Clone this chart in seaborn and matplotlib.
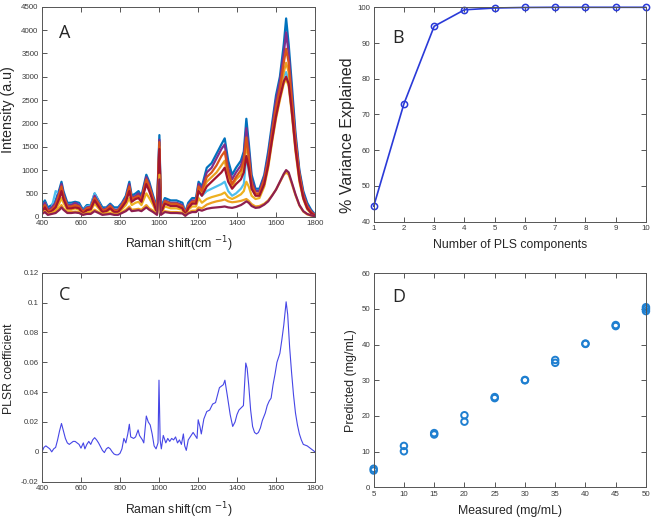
import numpy as np
import pandas as pd
import matplotlib
matplotlib.use("Agg")
import matplotlib.pyplot as plt
import seaborn as sns

# ---------------- Panel A data: Raman spectra ----------------
shift_a = [400, 415, 430, 450, 470, 490, 500, 510, 530, 550, 570, 590, 610, 630, 650,
           670, 690, 710, 730, 750, 770, 790, 810, 830, 848, 860, 880, 895, 910, 935,
           950, 970, 990, 1002, 1010, 1030, 1060, 1090, 1120, 1135, 1150, 1170, 1190, 1203, 1220,
           1245, 1270, 1295, 1320, 1337, 1355, 1375, 1395, 1420, 1435, 1448, 1460, 1475, 1495, 1515,
           1540, 1560, 1580, 1600, 1620, 1640, 1652, 1665, 1680, 1700, 1720, 1740, 1760, 1780, 1800]

spec_blue = [250, 350, 200, 250, 350, 600, 750, 550, 300, 300, 320, 300, 150, 250, 250,
             500, 350, 200, 200, 280, 200, 200, 300, 450, 750, 450, 500, 550, 450, 900,
             750, 450, 200, 1750, 200, 400, 350, 350, 300, 100, 300, 400, 400, 750, 650,
             1050, 1150, 1350, 1550, 1680, 1200, 900, 1050, 1200, 1400, 2100, 1600, 900, 600, 600,
             900, 1400, 2000, 2600, 3000, 3700, 4250, 3700, 2900, 1800, 1000, 550, 300, 150, 50]
spec_cyan = [200, 300, 150, 200, 550, 500, 650, 450, 250, 250, 280, 250, 120, 220, 250,
             500, 320, 150, 180, 250, 150, 150, 280, 380, 600, 380, 420, 450, 380, 700,
             600, 380, 150, 1450, 150, 350, 300, 300, 250, 80, 250, 320, 300, 550, 450,
             550, 600, 650, 700, 750, 550, 450, 500, 600, 700, 1300, 1000, 600, 480, 500,
             800, 1200, 1800, 2300, 2700, 3000, 3100, 2900, 2300, 1500, 850, 400, 200, 100, 30]
spec_yellow = [80, 150, 60, 100, 150, 300, 400, 300, 150, 150, 180, 150, 50, 120, 130,
               280, 180, 80, 100, 150, 80, 80, 160, 250, 400, 250, 300, 320, 250, 500,
               400, 250, 60, 1200, 60, 220, 180, 180, 150, 30, 150, 220, 220, 400, 300,
               380, 420, 450, 480, 520, 420, 380, 420, 480, 550, 750, 650, 450, 380, 400,
               650, 1050, 1600, 2100, 2500, 2850, 2950, 2800, 2250, 1400, 750, 380, 160, 70, 15]
spec_purple = [200, 300, 150, 200, 300, 550, 700, 500, 250, 250, 300, 250, 120, 200, 220,
               450, 300, 150, 180, 250, 150, 150, 280, 400, 700, 400, 450, 500, 400, 850,
               700, 400, 150, 1650, 150, 350, 300, 300, 250, 80, 250, 350, 350, 700, 600,
               950, 1050, 1250, 1450, 1550, 1050, 800, 950, 1100, 1300, 1900, 1450, 800, 550, 550,
               850, 1300, 1900, 2500, 2900, 3500, 3950, 3500, 2700, 1700, 950, 500, 250, 120, 40]
spec_gold = [120, 200, 100, 130, 220, 450, 600, 420, 200, 200, 230, 200, 80, 160, 180,
             380, 250, 110, 140, 210, 120, 110, 230, 350, 600, 350, 400, 420, 350, 750,
             600, 350, 100, 1500, 100, 300, 250, 250, 200, 50, 200, 300, 300, 600, 500,
             750, 850, 950, 1100, 1200, 850, 650, 800, 900, 1100, 1550, 1200, 650, 480, 480,
             750, 1150, 1700, 2250, 2650, 3100, 3300, 3100, 2450, 1550, 850, 420, 200, 90, 20]
spec_red = [150, 250, 120, 150, 250, 500, 650, 450, 220, 220, 250, 220, 100, 180, 200,
            400, 280, 130, 160, 230, 130, 130, 250, 380, 650, 380, 420, 450, 380, 800,
            650, 380, 120, 1600, 120, 330, 280, 280, 220, 60, 230, 320, 330, 650, 550,
            850, 950, 1100, 1300, 1400, 950, 700, 850, 1000, 1200, 1700, 1300, 700, 500, 500,
            800, 1200, 1800, 2350, 2750, 3300, 3600, 3300, 2550, 1600, 900, 450, 220, 100, 30]
spec_darkred = [100, 200, 80, 120, 200, 400, 550, 380, 180, 180, 200, 180, 60, 140, 160,
                350, 220, 100, 120, 180, 100, 100, 200, 320, 550, 320, 380, 400, 320, 700,
                550, 320, 80, 1450, 80, 280, 230, 230, 180, 40, 180, 280, 280, 550, 450,
                650, 750, 850, 950, 1050, 750, 600, 700, 800, 950, 1300, 1050, 600, 450, 450,
                700, 1100, 1650, 2150, 2550, 2900, 3000, 2850, 2300, 1450, 800, 400, 180, 80, 20]
spec_low_orange = [80, 120, 60, 80, 120, 200, 250, 180, 100, 100, 110, 100, 50, 80, 80,
                   150, 100, 60, 70, 80, 60, 60, 100, 150, 220, 150, 160, 170, 150, 250,
                   180, 130, 60, 900, 60, 120, 100, 100, 90, 30, 90, 130, 130, 200, 180,
                   260, 300, 330, 350, 370, 330, 310, 320, 340, 360, 380, 340, 270, 220, 230,
                   280, 350, 460, 580, 740, 900, 950, 900, 720, 460, 240, 110, 50, 25, 10]
spec_low_red = [60, 100, 40, 60, 80, 150, 200, 150, 80, 80, 90, 80, 40, 60, 60,
                120, 80, 40, 50, 60, 40, 40, 80, 120, 180, 120, 130, 140, 120, 200,
                150, 100, 40, 800, 40, 100, 80, 80, 70, 20, 70, 100, 100, 150, 130,
                170, 190, 200, 210, 220, 200, 190, 210, 250, 290, 330, 300, 230, 190, 200,
                260, 330, 450, 580, 750, 920, 1000, 950, 750, 480, 250, 120, 60, 30, 10]

spectra_names = ["blue", "cyan", "yellow", "purple", "gold", "red", "darkred", "low_orange", "low_red"]
spectra_values = [spec_blue, spec_cyan, spec_yellow, spec_purple, spec_gold, spec_red,
                  spec_darkred, spec_low_orange, spec_low_red]
spectra_colors = ["#0072BD", "#4DBEEE", "#EDB120", "#7E2F8E", "#E8A020", "#D95319",
                  "#A2142F", "#EDA020", "#8E1F4F"]

# ---------------- Panel B data ----------------
n_components = [1, 2, 3, 4, 5, 6, 7, 8, 9, 10]
variance_explained = [44.3, 73.0, 94.7, 99.3, 99.8, 99.95, 100.0, 100.0, 100.0, 100.0]

# ---------------- Panel C data: PLSR coefficients ----------------
shift_c = [400, 410, 420, 430, 440, 450, 460, 470, 480, 490, 500, 510, 520, 530, 540, 550, 560, 570,
           580, 590, 600, 612, 620, 630, 640, 650, 660, 670, 680, 690, 700, 710, 720, 730, 740, 750,
           760, 770, 780, 790, 800, 810, 820, 830, 840, 848, 855, 870, 880, 893, 900, 915, 922, 935,
           945, 955, 965, 975, 985, 995, 1000, 1006, 1012, 1022, 1035, 1045, 1055, 1065, 1075, 1085,
           1095, 1105, 1115, 1125, 1132, 1140, 1150, 1160, 1175, 1185, 1195, 1201, 1210, 1217, 1230,
           1245, 1260, 1275, 1290, 1310, 1320, 1330, 1338, 1350, 1365, 1378, 1390, 1400, 1410, 1425,
           1433, 1445, 1452, 1460, 1470, 1480, 1490, 1500, 1510, 1520, 1530, 1545, 1555, 1565, 1575,
           1585, 1595, 1605, 1610, 1620, 1630, 1640, 1652, 1660, 1670, 1680, 1690, 1700, 1710, 1720,
           1730, 1740, 1750, 1760, 1770, 1780, 1790, 1800]
plsr_coef = [0.000, 0.003, 0.004, 0.003, 0.002, 0.000, 0.002, 0.003, 0.008, 0.014, 0.019, 0.014,
             0.009, 0.006, 0.005, 0.006, 0.007, 0.007, 0.006, 0.005, 0.0025, 0.006, 0.002, 0.005,
             0.007, 0.005, 0.008, 0.0095, 0.008, 0.006, 0.0035, 0.001, -0.0005, 0.002, 0.003, 0.002,
             0.000, -0.0015, -0.002, -0.002, -0.001, 0.002, 0.009, 0.006, 0.012, 0.0185, 0.010,
             0.009, 0.010, 0.0147, 0.011, 0.008, 0.006, 0.024, 0.020, 0.018, 0.012, 0.004, 0.002,
             0.006, 0.048, 0.008, 0.002, 0.011, 0.006, 0.009, 0.007, 0.009, 0.008, 0.010, 0.006,
             0.008, 0.005, 0.012, 0.004, 0.001, 0.008, 0.010, 0.013, 0.011, 0.009, 0.0215, 0.017,
             0.012, 0.022, 0.027, 0.028, 0.032, 0.033, 0.043, 0.044, 0.045, 0.048, 0.038, 0.025,
             0.017, 0.020, 0.025, 0.028, 0.030, 0.031, 0.0595, 0.056, 0.045, 0.028, 0.017, 0.013,
             0.012, 0.013, 0.016, 0.021, 0.026, 0.031, 0.034, 0.036, 0.045, 0.052, 0.060, 0.062,
             0.066, 0.075, 0.085, 0.1005, 0.092, 0.070, 0.053, 0.038, 0.026, 0.018, 0.012, 0.008,
             0.005, 0.0045, 0.004, 0.003, 0.002, 0.001, 0.000]

# ---------------- Panel D data ----------------
measured = [5, 5, 10, 10, 15, 15, 20, 20, 25, 25, 30, 30, 35, 35, 40, 40, 45, 45, 50, 50, 50]
predicted = [4.7, 5.2, 10.1, 11.6, 14.8, 15.2, 18.4, 20.2, 25.0, 25.3, 30.0, 30.1,
             34.9, 35.7, 40.2, 40.3, 45.2, 45.5, 49.4, 50.0, 50.5]

# ---------------- Styling ----------------
sns.set_theme(style="ticks", rc={"xtick.direction": "in", "ytick.direction": "in",
                                 "xtick.top": True, "ytick.right": True,
                                 "xtick.major.size": 3.5, "ytick.major.size": 3.5,
                                 "xtick.major.width": 0.7, "ytick.major.width": 0.7})
plt.rcParams["font.family"] = ["Liberation Sans", "DejaVu Sans"]

fig = plt.figure(figsize=(6.55, 5.21), dpi=100)
axA = fig.add_axes([0.0641, 0.584, 0.4168, 0.403])
axB = fig.add_axes([0.5705, 0.5745, 0.4157, 0.4115])
axC = fig.add_axes([0.0641, 0.0754, 0.4168, 0.4012])
axD = fig.add_axes([0.5705, 0.0647, 0.4157, 0.4107])

spine_col = "#555555"
tick_col = "#3c3c3c"


def style(ax):
    for s in ax.spines.values():
        s.set_visible(True)
        s.set_color(spine_col)
        s.set_linewidth(0.7)
    ax.tick_params(axis="both", which="major", direction="in", length=3.5, width=0.7,
                   color=spine_col, labelcolor=tick_col, labelsize=5.7,
                   top=True, right=True, bottom=True, left=True, pad=2.5)
    ax.grid(False)
    ax.set_facecolor("white")


# Panel A
rows = []
for name, vals in zip(spectra_names, spectra_values):
    rows.append(pd.DataFrame({"shift": shift_a, "intensity": vals, "spectrum": name}))
dfA = pd.concat(rows, ignore_index=True)
sns.lineplot(data=dfA, x="shift", y="intensity", hue="spectrum", hue_order=spectra_names,
             palette=dict(zip(spectra_names, spectra_colors)), estimator=None, sort=False,
             linewidth=1.6, legend=False, ax=axA)
axA.set_xlim(400, 1800)
axA.set_ylim(0, 4500)
axA.set_xticks(range(400, 1801, 200))
axA.set_yticks(range(0, 4501, 500))
style(axA)
axA.set_xlabel("Raman shift(cm $^{-1}$)", fontsize=8.8)
axA.set_ylabel("Intensity (a.u)", fontsize=10.3)
axA.xaxis.set_label_coords(0.5, -0.085)
axA.yaxis.set_label_coords(-0.098, 0.51)
axA.text(0.062, 0.875, "A", transform=axA.transAxes, fontsize=13, va="center",
         ha="left", family="Open Sans")

# Panel B
dfB = pd.DataFrame({"n": n_components, "var": variance_explained})
sns.lineplot(data=dfB, x="n", y="var", color="#2a3ad8", linewidth=1.2, marker="o",
             markersize=4.5, markerfacecolor="none", markeredgecolor="#2a3ad8",
             markeredgewidth=1.1, ax=axB, clip_on=False)
axB.set_xlim(1, 10)
axB.set_ylim(40, 100)
axB.set_xticks(range(1, 11))
axB.set_yticks(range(40, 101, 10))
style(axB)
axB.set_xlabel("Number of PLS components", fontsize=8.8)
axB.set_ylabel("% Variance Explained", fontsize=11.5)
axB.xaxis.set_label_coords(0.5, -0.083)
axB.yaxis.set_label_coords(-0.07, 0.405)
axB.text(0.07, 0.857, "B", transform=axB.transAxes, fontsize=13, va="center",
         ha="left", family="Open Sans")

# Panel C
dfC = pd.DataFrame({"shift": shift_c, "coef": plsr_coef})
sns.lineplot(data=dfC, x="shift", y="coef", color="#4646e6", linewidth=0.8, ax=axC)
axC.set_xlim(400, 1800)
axC.set_ylim(-0.02, 0.12)
axC.set_xticks(range(400, 1801, 200))
axC.set_yticks([-0.02, 0, 0.02, 0.04, 0.06, 0.08, 0.1, 0.12])
axC.set_yticklabels(["-0.02", "0", "0.02", "0.04", "0.06", "0.08", "0.1", "0.12"])
style(axC)
axC.set_xlabel("Raman shift(cm $^{-1}$)", fontsize=8.8)
axC.set_ylabel("PLSR coefficient", fontsize=8.8)
axC.xaxis.set_label_coords(0.5, -0.088)
axC.yaxis.set_label_coords(-0.098, 0.54)
axC.text(0.062, 0.893, "C", transform=axC.transAxes, fontsize=13, va="center",
         ha="left", family="Open Sans")

# Panel D
dfD = pd.DataFrame({"measured": measured, "predicted": predicted})
sns.scatterplot(data=dfD, x="measured", y="predicted", s=22, marker="o",
                facecolors="none", edgecolor="#1f7fd0", linewidth=1.4, ax=axD,
                clip_on=False)
axD.set_xlim(5, 50)
axD.set_ylim(0, 60)
axD.set_xticks(range(5, 51, 5))
axD.set_yticks(range(0, 61, 10))
style(axD)
axD.set_xlabel("Measured (mg/mL)", fontsize=8.8)
axD.set_ylabel("Predicted (mg/mL)", fontsize=9.0)
axD.xaxis.set_label_coords(0.5, -0.083)
axD.yaxis.set_label_coords(-0.06, 0.5)
axD.text(0.07, 0.888, "D", transform=axD.transAxes, fontsize=13, va="center",
         ha="left", family="Open Sans")

fig.savefig("out.png", dpi=100, facecolor="white")
